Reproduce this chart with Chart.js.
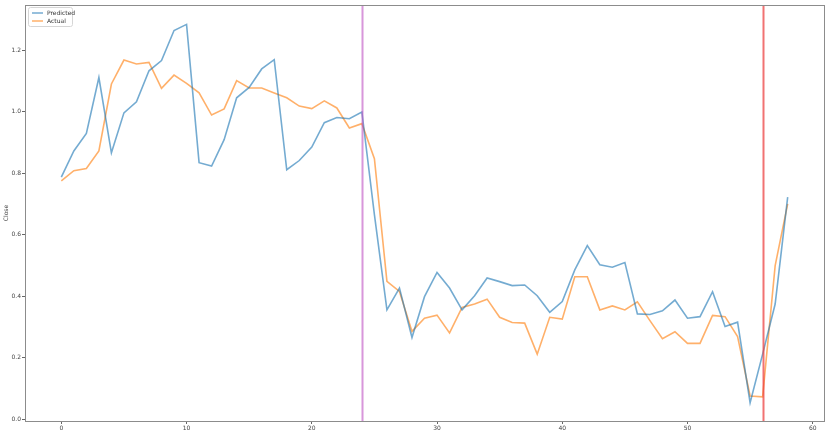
<!DOCTYPE html>
<html>
<head>
<meta charset="utf-8">
<script src="https://cdn.jsdelivr.net/npm/chart.js@4.4.1/dist/chart.umd.min.js"></script>
<style>
	html, body { margin: 0; padding: 0; background: #fff; }
	#wrap { width: 832px; height: 433px; }
</style>
</head>
<body>
<div id="wrap"><canvas id="closeChart"></canvas></div>
<script>
var steps = [
	0, 1, 2, 3, 4, 5, 6, 7, 8, 9, 10, 11, 12, 13, 14, 15, 16, 17, 18, 19, 20,
	21, 22, 23, 24, 25, 26, 27, 28, 29, 30, 31, 32, 33, 34, 35, 36, 37, 38, 39,
	40, 41, 42, 43, 44, 45, 46, 47, 48, 49, 50, 51, 52, 53, 54, 55, 56, 57, 58,
];
var predicted = [
	0.787, 0.872, 0.929, 1.111, 0.866, 0.996, 1.032, 1.133, 1.166, 1.264, 1.284,
	0.834, 0.823, 0.909, 1.045, 1.079, 1.139, 1.169, 0.811, 0.841, 0.885, 0.964,
	0.981, 0.977, 0.999, 0.665, 0.355, 0.426, 0.265, 0.398, 0.477, 0.426, 0.355,
	0.401, 0.459, 0.447, 0.434, 0.436, 0.401, 0.347, 0.382, 0.485, 0.564, 0.502,
	0.494, 0.509, 0.342, 0.34, 0.352, 0.387, 0.328, 0.333, 0.414, 0.301, 0.315,
	0.053, 0.211, 0.374, 0.722,
];
var actual = [
	0.775, 0.808, 0.815, 0.872, 1.09, 1.168, 1.155, 1.16, 1.076, 1.119, 1.092,
	1.061, 0.989, 1.009, 1.101, 1.077, 1.077, 1.061, 1.045, 1.018, 1.01, 1.035,
	1.012, 0.947, 0.961, 0.847, 0.448, 0.415, 0.285, 0.328, 0.338, 0.28, 0.363,
	0.374, 0.39, 0.331, 0.314, 0.312, 0.211, 0.331, 0.325, 0.463, 0.463, 0.355,
	0.368, 0.355, 0.381, 0.32, 0.261, 0.284, 0.246, 0.246, 0.337, 0.333, 0.268,
	0.075, 0.072, 0.499, 0.7,
];
// split markers (axvline positions)
var trainEnd = 24;
var testEnd = 56;

var FONT = "'DejaVu Sans', sans-serif";

function toPoints(vals) {
	return vals.map(function (v, i) {
		return { x: steps[i], y: v };
	});
}

// box around plot, vertical markers and the inside legend
var decor = {
	id: "decor",
	afterDatasetsDraw: function (chart) {
		var c = chart.ctx, a = chart.chartArea, xs = chart.scales.x;
		c.save();
		[[trainEnd, "rgba(190,80,195,0.6)"], [testEnd, "rgba(235,60,60,0.72)"]].forEach(function (m) {
			var px = Math.round(xs.getPixelForValue(m[0])) + 0.5;
			c.strokeStyle = m[1];
			c.lineWidth = 2;
			c.beginPath();
			c.moveTo(px, a.top);
			c.lineTo(px, a.bottom);
			c.stroke();
		});

		c.strokeStyle = "#8c8c8c";
		c.lineWidth = 1;
		c.strokeRect(a.left + 0.5, a.top + 0.5, a.right - a.left, a.bottom - a.top);

		var lx = a.left + 3, ly = a.top + 2;
		c.fillStyle = "rgba(255,255,255,0.85)";
		c.strokeStyle = "#d6d6d6";
		c.beginPath();
		c.roundRect(lx + 0.5, ly + 0.5, 44, 19, 2);
		c.fill();
		c.stroke();
		c.font = "6px " + FONT;
		c.textBaseline = "middle";
		chart.data.datasets.forEach(function (ds, i) {
			var yy = ly + 6 + i * 8;
			c.strokeStyle = ds.borderColor;
			c.lineWidth = 1.5;
			c.beginPath();
			c.moveTo(lx + 4, yy);
			c.lineTo(lx + 15, yy);
			c.stroke();
			c.fillStyle = "#333";
			c.fillText(ds.label, lx + 19, yy);
		});
		c.restore();
	},
};

var ctx = document.getElementById("closeChart").getContext("2d");
new Chart(ctx, {
	type: "line",
	data: {
		datasets: [
			{
				label: "Predicted",
				data: toPoints(predicted),
				borderColor: "rgba(31,119,180,0.62)",
				borderWidth: 1.6,
				pointRadius: 0,
				tension: 0,
			},
			{
				label: "Actual",
				data: toPoints(actual),
				borderColor: "rgba(255,127,14,0.62)",
				borderWidth: 1.6,
				pointRadius: 0,
				tension: 0,
			},
		],
	},
	options: {
		responsive: true,
		maintainAspectRatio: false,
		animation: false,
		layout: { padding: { left: 0, top: 5, right: 8, bottom: 0 } },
		plugins: {
			legend: { display: false },
			tooltip: { enabled: false },
		},
		scales: {
			x: {
				type: "linear",
				min: -2.9,
				max: 60.9,
				border: { display: false },
				grid: { drawOnChartArea: false, drawTicks: true, tickLength: 3, color: "#666" },
				ticks: {
					stepSize: 10,
					includeBounds: false,
					padding: 1,
					maxRotation: 0,
					color: "#444",
					font: { family: FONT, size: 6 },
				},
				afterFit: function (s) { s.height = 12; },
			},
			y: {
				min: -0.0065,
				max: 1.347,
				border: { display: false },
				grid: { drawOnChartArea: false, drawTicks: true, tickLength: 3, color: "#666" },
				ticks: {
					stepSize: 0.2,
					includeBounds: false,
					padding: 1,
					color: "#444",
					font: { family: FONT, size: 6 },
					callback: function (v) { return v.toFixed(1); },
				},
				title: {
					display: true,
					text: "Close",
					color: "#444",
					padding: { top: 3, bottom: 0 },
					font: { family: FONT, size: 6 },
				},
				afterFit: function (s) { s.width = 25; },
			},
		},
	},
	plugins: [decor],
});
</script>
</body>
</html>
